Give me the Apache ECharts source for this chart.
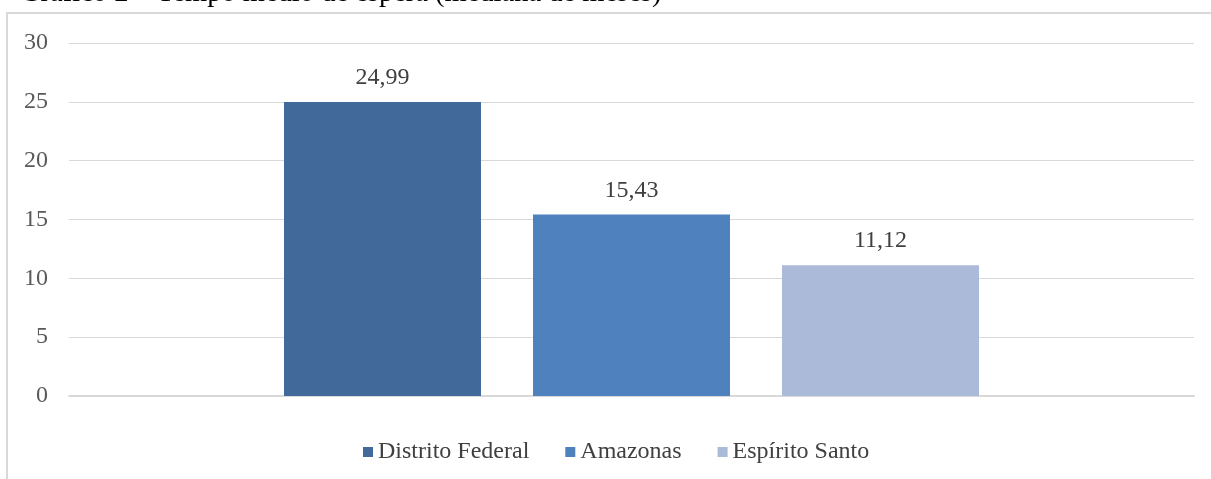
<!DOCTYPE html>
<html>
<head>
<meta charset="utf-8">
<script src="https://cdn.jsdelivr.net/npm/echarts@6/dist/echarts.min.js"></script>
<style>
html,body{margin:0;padding:0;background:#fff;}
#chart{width:1211px;height:479px;}
</style>
</head>
<body>
<div id="chart"></div>
<script>
const titleText = 'Gráfico 2 – Tempo médio de espera (mediana de meses)';
const categories = [''];
const seriesNames = ['Distrito Federal', 'Amazonas', 'Espírito Santo'];
const seriesValues = [24.99, 15.43, 11.12];
const seriesColors = ['#416a9b', '#4e81bd', '#abbad8'];
const yTicks = { min: 0, max: 30, interval: 5 };

const FONT = '"Liberation Serif", "Times New Roman", serif';
const chart = echarts.init(document.getElementById('chart'), null, { renderer: 'canvas' });

const series = seriesNames.map((name, i) => ({
  name: name,
  type: 'bar',
  data: [seriesValues[i]],
  barWidth: 197,
  barGap: '26.4%',
  itemStyle: { color: seriesColors[i] },
  label: {
    show: true,
    position: 'top',
    distance: 12,
    fontFamily: FONT,
    fontSize: 24,
    color: '#404040',
    formatter: p => p.value.toFixed(2).replace('.', ',')
  }
}));

chart.setOption({
  animation: false,
  backgroundColor: '#ffffff',
  textStyle: { fontFamily: FONT },
  graphic: [
    {
      type: 'rect',
      shape: { x: 7, y: 13, width: 1230, height: 500 },
      style: { fill: 'none', stroke: '#d9d9d9', lineWidth: 2 },
      silent: true,
      z: -10
    },
    {
      type: 'text',
      x: 20,
      y: 8,
      style: {
        text: titleText,
        font: '28.5px ' + FONT,
        fill: '#000000',
        verticalAlign: 'bottom'
      },
      silent: true
    }
  ],
  grid: { left: 69, right: 17, top: 43, bottom: 83, containLabel: false },
  legend: {
    data: seriesNames,
    left: 358,
    top: 435,
    itemWidth: 10,
    itemHeight: 10,
    itemGap: 36,
    icon: 'rect',
    textStyle: { fontFamily: FONT, fontSize: 24, color: '#404040' }
  },
  xAxis: {
    type: 'category',
    data: categories,
    axisLine: { show: true, lineStyle: { color: '#d9d9d9', width: 2 } },
    axisTick: { show: false },
    axisLabel: { show: false }
  },
  yAxis: {
    type: 'value',
    min: yTicks.min,
    max: yTicks.max,
    interval: yTicks.interval,
    axisLine: { show: false },
    axisTick: { show: false },
    splitLine: { lineStyle: { color: '#d9d9d9', width: 1 } },
    axisLabel: { fontFamily: FONT, fontSize: 24, color: '#595959', margin: 21 }
  },
  series: series
});
</script>
</body>
</html>
